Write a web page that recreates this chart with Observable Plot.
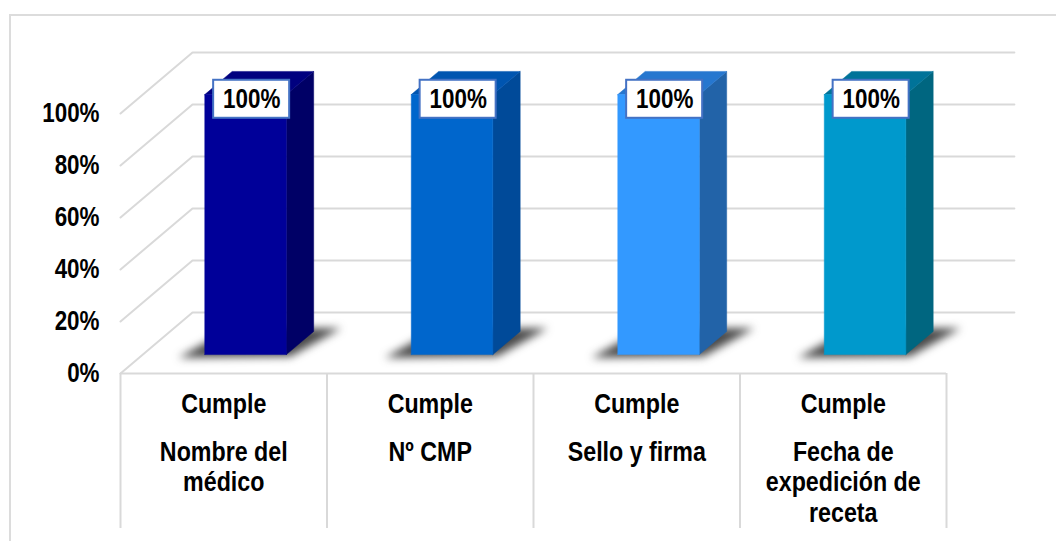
<!DOCTYPE html>
<html>
<head>
<meta charset="utf-8">
<script src="https://cdn.jsdelivr.net/npm/d3@7"></script>
<script src="https://cdn.jsdelivr.net/npm/@observablehq/plot@0.6"></script>
<style>
  html, body { margin: 0; padding: 0; background: #fff; overflow: hidden; }
  #wrap { position: relative; width: 1056px; height: 541px; }
  #border { position: absolute; left: 9px; top: 14px; width: 1100px; height: 600px;
            border-top: 2px solid #dcdcdc; border-left: 2px solid #dcdcdc; }
  #chart { position: absolute; left: 0; top: 0; }
</style>
</head>
<body>
<div id="wrap"><div id="border"></div><div id="chart"></div></div>
<script>
// ---- data ----
const cumple = ["Cumple", "Cumple", "Cumple", "Cumple"];
const criterios = ["Nombre del\nmédico", "Nº CMP", "Sello y firma", "Fecha de\nexpedición de\nreceta"];
const porcentajes = [100, 100, 100, 100];
const yTicks = [0, 20, 40, 60, 80, 100];

// ---- styles ----
const frontColors = ["#000099", "#0066CC", "#3399FF", "#0099CC"];
const sideColors  = ["#000066", "#004A99", "#2263A8", "#006680"];
const topColors   = ["#00007F", "#0055B0", "#2677CF", "#007399"];
const gridColor = "#d9d9d9";
const FONT = "'Liberation Sans', Arial, Helvetica, sans-serif";
const SX = 0.83; // horizontal condensing of the text

// oblique projection: depth d in [0,1] shifts x by DX category units and y by DY percent units
const CAT_PX = 206.5, PCT_PX = 2.6;
const DX = 72 / CAT_PX, DY = 61 / PCT_PX;
const P = (u, v, d) => ({x: u + d * DX, y: v + d * DY});

const DF = 0.31, DB = 0.69;       // bar depth (front/back)
const BL = 0.30, BR = 0.695;      // bar left/right within category
const n = porcentajes.length;

// gridlines (left side wall diagonal + back wall)
const grid = [];
yTicks.forEach(t => {
  [P(0, t, 0), P(0, t, 1), P(n - 0.02, t, 1)].forEach(p => grid.push({...p, id: "g" + t}));
});

// bar faces
const faces = [];
const shadows = [];
porcentajes.forEach((p, i) => {
  const uL = i + BL, uR = i + BR;
  const poly = (id, color, pts) => pts.concat([pts[0]]).forEach(q => faces.push({...q, id, color}));
  poly("s" + i, sideColors[i], [P(uR, 0, DF), P(uR, 0, DB), P(uR, p, DB), P(uR, p, DF)]);
  poly("t" + i, topColors[i], [P(uL, p, DF), P(uR, p, DF), P(uR, p, DB), P(uL, p, DB)]);
  poly("f" + i, frontColors[i], [P(uL, 0, DF), P(uR, 0, DF), P(uR, p, DF), P(uL, p, DF)]);
  [P(i + 0.19, 0, 0.26), P(i + 0.725, 0, 0.28), P(i + 0.81, 0, 0.74), P(i + 0.28, 0, 0.74)]
    .forEach(q => shadows.push({...q, id: "sh" + i}));
});

// data labels
const labels = porcentajes.map((p, i) => {
  const c = P(i + 0.527, p - 1.8, DF);
  return {x: c.x, y: c.y, text: p + "%"};
});
const HW = 38 / CAT_PX, HH = 19 / PCT_PX;

const cats = cumple.map((c, i) => ({x: i + 0.5, cumple: c, crit: criterios[i]}));

const chart = Plot.plot({
  width: 1056,
  height: 541,
  marginLeft: 120,
  marginRight: 1056 - 946,
  marginTop: 113,
  marginBottom: 541 - 373,
  style: {fontFamily: FONT, background: "transparent"},
  x: {type: "linear", domain: [0, n], axis: null},
  y: {type: "linear", domain: [0, 100], axis: null},
  marks: [
    Plot.line(grid, {x: "x", y: "y", z: "id", stroke: gridColor, strokeWidth: 2}),
    Plot.ruleY([0], {x1: 0, x2: n, stroke: gridColor, strokeWidth: 2}),
    Plot.ruleX(d3.range(n + 1), {y1: 0, y2: -(528 - 373) / PCT_PX, stroke: gridColor, strokeWidth: 2}),
    Plot.axisY({ticks: yTicks, tickFormat: d => d + "%", tickSize: 0, tickPadding: 21,
                fontSize: 27, fontWeight: "bold", fill: "#000", label: null}),
    Plot.line(shadows, {x: "x", y: "y", z: "id", fill: "#2a2a2a", fillOpacity: 0.85, stroke: "none",
                        imageFilter: "blur(4px)"}),
    Plot.line(faces, {x: "x", y: "y", z: "id", fill: "color", stroke: "color", strokeWidth: 0.5}),
    Plot.rect(labels, {x1: d => d.x - HW, x2: d => d.x + HW, y1: d => d.y - HH, y2: d => d.y + HH,
                       fill: "white", stroke: "#4472C4", strokeWidth: 2}),
    Plot.text(labels, {x: "x", y: "y", text: "text", fontSize: 27, fontWeight: "bold", fill: "#000"}),
    Plot.text(cats, {x: "x", y: 0, text: "cumple", dy: 20, lineAnchor: "top",
                     fontSize: 28, fontWeight: "bold", fill: "#000"}),
    Plot.text(cats, {x: "x", y: 0, text: "crit", dy: 65, lineAnchor: "top", lineHeight: 31 / 28,
                     fontSize: 28, fontWeight: "bold", fill: "#000"})
  ]
});
document.getElementById("chart").appendChild(chart);

// condense text horizontally around its anchor (the reference uses a narrow face)
chart.querySelectorAll("text").forEach(t => {
  const b = t.getBBox();
  const anchor = getComputedStyle(t).textAnchor;
  const ax = anchor === "end" ? b.x + b.width : anchor === "start" ? b.x : b.x + b.width / 2;
  const prev = t.getAttribute("transform") || "";
  t.setAttribute("transform", `${prev} translate(${ax},0) scale(${SX},1) translate(${-ax},0)`.trim());
});
</script>
</body>
</html>
